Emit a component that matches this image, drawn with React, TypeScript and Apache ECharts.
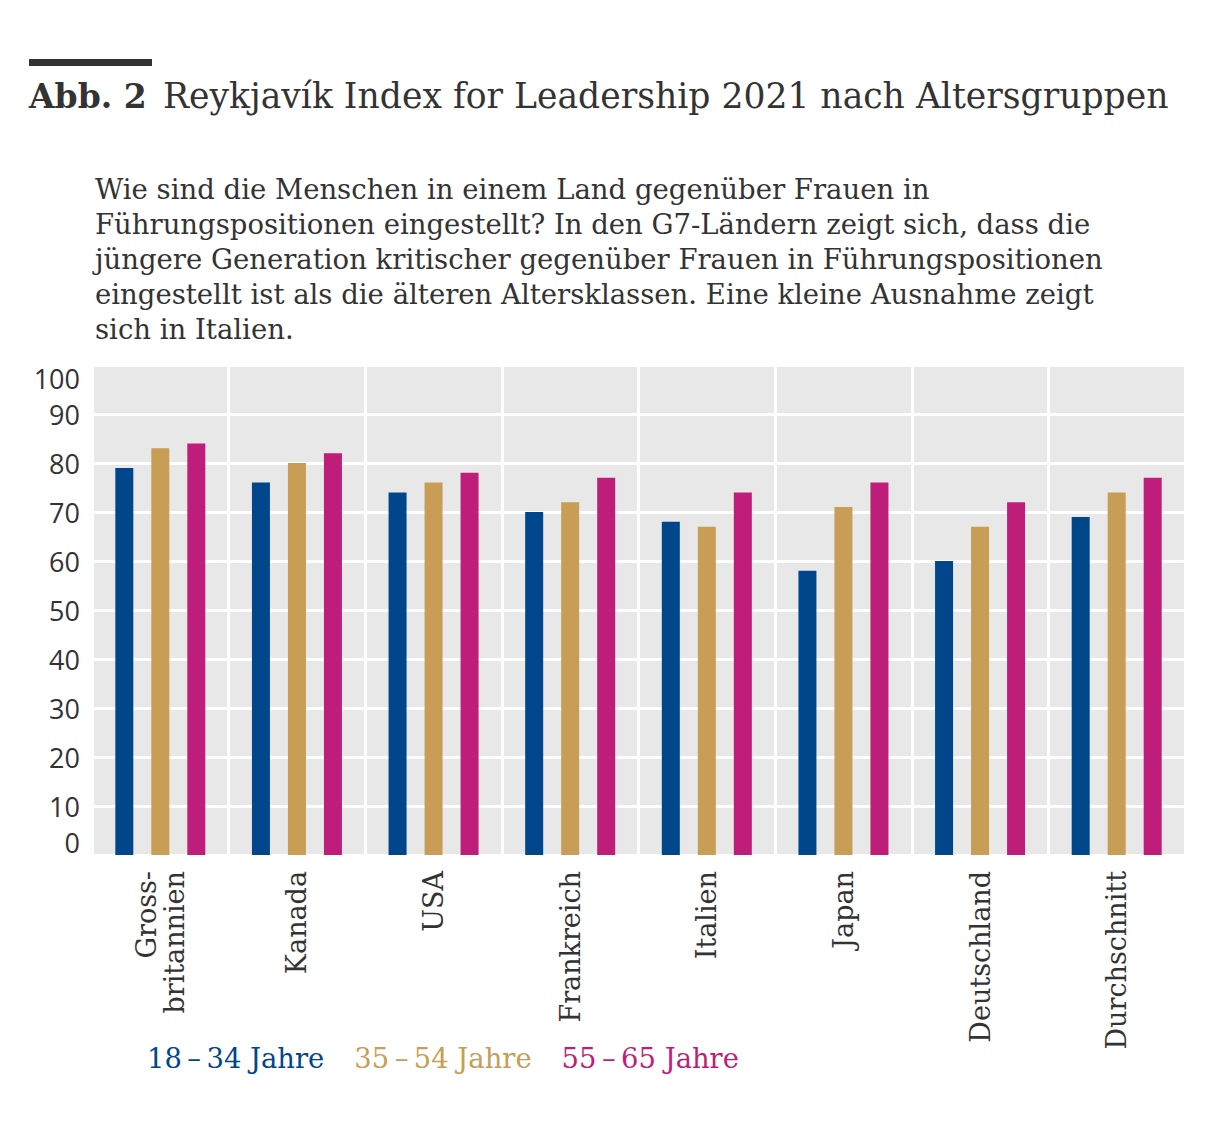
import React, { useEffect, useRef } from "react";
import * as echarts from "echarts";

const categories = [
  "Gross-\nbritannien",
  "Kanada",
  "USA",
  "Frankreich",
  "Italien",
  "Japan",
  "Deutschland",
  "Durchschnitt",
];
const seriesNames = ["18\u2009–\u200934 Jahre", "35\u2009–\u200954 Jahre", "55\u2009–\u200965 Jahre"];
const age18to34 = [79, 76, 74, 70, 68, 58, 60, 69];
const age35to54 = [83, 80, 76, 72, 67, 71, 67, 74];
const age55to65 = [84, 82, 78, 77, 74, 76, 72, 77];
const yTicks = { min: 0, max: 100, interval: 10 };
const colors = ["#00468b", "#c89d55", "#be1e7a"];

const titleLabel = "Abb. 2";
const titleText = "Reykjavík Index for Leadership 2021 nach Altersgruppen";
const subtitleLines = [
  "Wie sind die Menschen in einem Land gegenüber Frauen in",
  "Führungspositionen eingestellt? In den G7-Ländern zeigt sich, dass die",
  "jüngere Generation kritischer gegenüber Frauen in Führungspositionen",
  "eingestellt ist als die älteren Altersklassen. Eine kleine Ausnahme zeigt",
  "sich in Italien.",
];

const SERIF = "'DejaVu Serif', serif";
const SANS = "'Open Sans', 'Noto Sans', sans-serif";

export default function App() {
  const ref = useRef<HTMLDivElement>(null);
  useEffect(() => {
    document.body.style.margin = "0";
    const chart = echarts.init(ref.current!, undefined, { renderer: "svg" });
    const data = [age18to34, age35to54, age55to65];
    chart.setOption({
      animation: false,
      backgroundColor: "#ffffff",
      grid: {
        left: 92,
        right: 46,
        top: 365,
        bottom: 292,
        show: true,
        backgroundColor: "#e8e8e8",
        borderWidth: 0,
      },
      legend: {
        left: 142,
        top: 1045,
        padding: 0,
        itemWidth: 0,
        itemHeight: 0,
        itemGap: 25,
        icon: "rect",
        data: seriesNames.map((n, i) => ({
          name: n,
          textStyle: { color: colors[i] },
        })),
        textStyle: { fontFamily: SERIF, fontSize: 27.4 },
      },
      xAxis: {
        type: "category",
        data: categories,
        axisLine: { show: false },
        axisTick: { show: false },
        splitLine: { show: true, lineStyle: { color: "#ffffff", width: 3 } },
        axisLabel: {
          rotate: 90,
          interval: 0,
          margin: 16,
          fontFamily: SERIF,
          fontSize: 27,
          lineHeight: 28,
          color: "#333333",
        },
      },
      yAxis: {
        type: "value",
        min: yTicks.min,
        max: yTicks.max,
        interval: yTicks.interval,
        axisLine: { show: false },
        axisTick: { show: false },
        splitLine: { show: true, lineStyle: { color: "#ffffff", width: 3 } },
        axisLabel: {
          margin: 12,
          fontFamily: SANS,
          fontSize: 27,
          lineHeight: 26,
          color: "#333333",
          verticalAlignMinLabel: "bottom",
          verticalAlignMaxLabel: "top",
        },
      },
      series: seriesNames.map((n, i) => ({
        name: n,
        type: "bar",
        data: data[i],
        barWidth: 18,
        barGap: "100%",
        itemStyle: { color: colors[i] },
      })),
      graphic: [
        {
          type: "rect",
          shape: { x: 29, y: 59, width: 123, height: 7 },
          style: { fill: "#333333" },
        },
        {
          type: "text",
          x: 29,
          y: 96,
          style: {
            text: titleLabel,
            fontFamily: SERIF,
            fontWeight: "bold",
            fontSize: 33,
            fill: "#333333",
            verticalAlign: "middle",
          },
        },
        {
          type: "text",
          x: 163,
          y: 96,
          style: {
            text: titleText,
            fontFamily: SERIF,
            fontSize: 34.6,
            fill: "#333333",
            verticalAlign: "middle",
          },
        },
        {
          type: "text",
          x: 95,
          y: 171,
          style: {
            text: subtitleLines.join("\n"),
            fontFamily: SERIF,
            fontSize: 27.5,
            lineHeight: 35,
            fill: "#333333",
            verticalAlign: "top",
          },
        },
      ],
    });
    return () => chart.dispose();
  }, []);
  return <div ref={ref} style={{ width: 1231, height: 1147 }} />;
}
